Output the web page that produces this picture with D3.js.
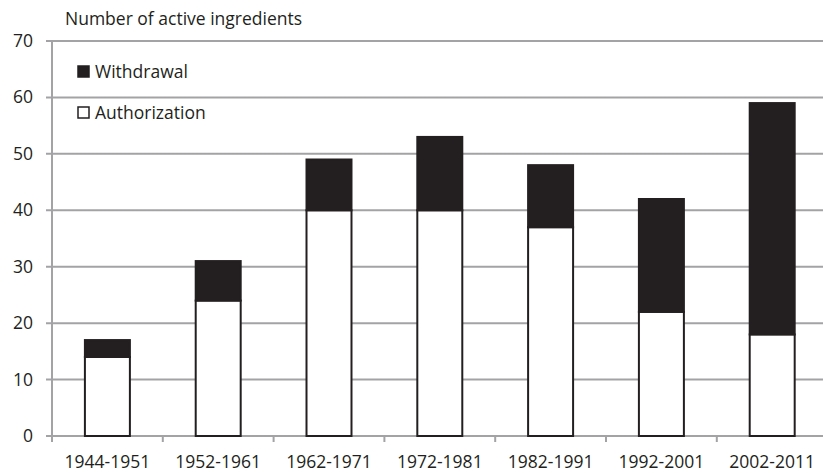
<!DOCTYPE html>
<html>
<head>
<meta charset="utf-8">
<script src="https://cdn.jsdelivr.net/npm/d3@7"></script>
<style>
  body { margin: 0; background: #fff; }
  text { font-family: "Open Sans", "DejaVu Sans", sans-serif; fill: #231f20; }
</style>
</head>
<body>
<div id="plot-container"></div>
<script>
// data
const periods = ["1944-1951", "1952-1961", "1962-1971", "1972-1981", "1982-1991", "1992-2001", "2002-2011"];
const authorization = [14, 24, 40, 40, 37, 22, 18];
const withdrawal = [3, 7, 9, 13, 11, 20, 41];
const yTicks = [0, 10, 20, 30, 40, 50, 60, 70];

const W = 823, H = 473;
const margin = {top: 41, left: 52, bottom: 37};
const plotW = 7 * 110.8;

const svg = d3.select("#plot-container")
  .append("svg")
    .attr("width", W)
    .attr("height", H);

const x = d3.scaleBand()
    .domain(periods)
    .range([margin.left, margin.left + plotW])
    .paddingInner(0.594)
    .paddingOuter(0.297);

const y = d3.scaleLinear()
    .domain([0, 70])
    .range([H - margin.bottom, margin.top]);

// gridlines
svg.append("g")
  .selectAll("line")
  .data(yTicks)
  .join("line")
    .attr("x1", margin.left - 6)
    .attr("x2", W)
    .attr("y1", d => y(d))
    .attr("y2", d => y(d))
    .attr("stroke", "#a3a3a6")
    .attr("stroke-width", 2);

// y axis line
svg.append("line")
    .attr("x1", margin.left).attr("x2", margin.left)
    .attr("y1", y(70)).attr("y2", y(0))
    .attr("stroke", "#a3a3a6")
    .attr("stroke-width", 2);

// x ticks between categories
const boundaries = d3.range(periods.length + 1).map(i => margin.left + i * plotW / periods.length);
svg.append("g")
  .selectAll("line")
  .data(boundaries)
  .join("line")
    .attr("x1", d => d).attr("x2", d => d)
    .attr("y1", y(0)).attr("y2", y(0) + 6)
    .attr("stroke", "#a3a3a6")
    .attr("stroke-width", 2);

// y tick labels
svg.append("g")
  .selectAll("text")
  .data(yTicks)
  .join("text")
    .attr("x", 33)
    .attr("y", d => y(d) + 6)
    .attr("text-anchor", "end")
    .style("font-size", "17.5px")
    .text(d => d);

// x labels
svg.append("g")
  .selectAll("text")
  .data(periods)
  .join("text")
    .attr("x", d => x(d) + x.bandwidth() / 2)
    .attr("y", 468)
    .attr("text-anchor", "middle")
    .style("font-size", "17.5px")
    .text(d => d);

// bars: authorization (white) then withdrawal (black) stacked on top
const bars = svg.append("g");
bars.selectAll("rect.auth")
  .data(periods)
  .join("rect")
    .attr("class", "auth")
    .attr("x", d => x(d))
    .attr("y", (d, i) => y(authorization[i]))
    .attr("width", x.bandwidth())
    .attr("height", (d, i) => y(0) - y(authorization[i]))
    .attr("fill", "#fff")
    .attr("stroke", "#231f20")
    .attr("stroke-width", 2);

bars.selectAll("rect.withd")
  .data(periods)
  .join("rect")
    .attr("class", "withd")
    .attr("x", d => x(d))
    .attr("y", (d, i) => y(authorization[i] + withdrawal[i]))
    .attr("width", x.bandwidth())
    .attr("height", (d, i) => y(authorization[i]) - y(authorization[i] + withdrawal[i]))
    .attr("fill", "#231f20")
    .attr("stroke", "#231f20")
    .attr("stroke-width", 2);

// axis title
svg.append("text")
    .attr("x", 65)
    .attr("y", 25)
    .style("font-size", "17.5px")
    .text("Number of active ingredients");

// legend
const legend = [
  {label: "Withdrawal", fill: "#231f20", y: 66},
  {label: "Authorization", fill: "#fff", y: 107}
];
const lg = svg.append("g")
  .selectAll("g")
  .data(legend)
  .join("g");
lg.append("rect")
    .attr("x", 78)
    .attr("y", d => d.y)
    .attr("width", 11)
    .attr("height", 11)
    .attr("fill", d => d.fill)
    .attr("stroke", "#231f20")
    .attr("stroke-width", 1.5);
lg.append("text")
    .attr("x", 95)
    .attr("y", d => d.y + 12)
    .style("font-size", "17.5px")
    .text(d => d.label);
</script>
</body>
</html>
